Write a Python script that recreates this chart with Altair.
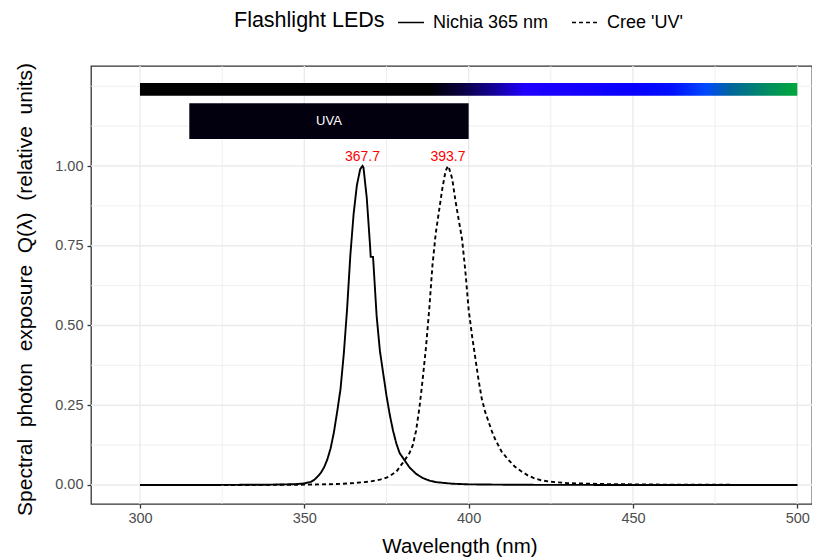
import altair as alt
import pandas as pd

# ---- data -------------------------------------------------------------
nichia_wl = [300, 320, 340, 345, 348, 350, 352, 353, 354, 355, 356, 357, 358, 359, 360,
             361, 362, 363, 364, 365, 366, 367, 367.7, 368, 369, 370, 370.2, 370.9, 371,
             372, 373, 374, 375, 376, 377, 378, 379, 380, 382, 384, 386, 388, 390, 395,
             400, 410, 420, 450, 500]
nichia_q = [0, 0, 0.001, 0.002, 0.003, 0.005, 0.01, 0.016, 0.026, 0.038, 0.055, 0.08, 0.115,
            0.165, 0.23, 0.30, 0.41, 0.55, 0.72, 0.85, 0.94, 0.99, 1.0, 0.995, 0.90, 0.75,
            0.715, 0.715, 0.70, 0.53, 0.42, 0.35, 0.28, 0.22, 0.17, 0.13, 0.10, 0.085, 0.055,
            0.035, 0.022, 0.014, 0.009, 0.004, 0.002, 0.001, 0.0005, 0, 0]

cree_wl = [300, 330, 350, 360, 365, 370, 373, 375, 376, 378, 380, 381, 382, 383, 384, 385,
           386, 387, 388, 389, 390, 391, 392, 393, 393.7, 394, 395, 396, 397, 398, 399, 400,
           401, 402, 403, 404, 405, 406, 407, 408, 409, 410, 412, 414, 416, 418, 420, 422,
           425, 430, 440, 460, 500]
cree_q = [0, 0, 0.001, 0.003, 0.006, 0.011, 0.017, 0.023, 0.028, 0.042, 0.07, 0.085, 0.10,
          0.125, 0.17, 0.24, 0.33, 0.43, 0.55, 0.69, 0.79, 0.86, 0.93, 0.985, 1.0, 0.995, 0.96,
          0.89, 0.83, 0.77, 0.67, 0.55, 0.47, 0.40, 0.33, 0.27, 0.23, 0.20, 0.17, 0.145,
          0.125, 0.105, 0.08, 0.058, 0.043, 0.03, 0.021, 0.015, 0.01, 0.006, 0.003, 0.001, 0]

series_names = ["Nichia 365 nm", "Cree 'UV'"]
peak_wl = [367.7, 393.7]
peak_q = [1.0, 1.0]

# spectral colour bar and UVA band
bar_range = [300, 500]
bar_y = [1.22, 1.26]
bar_stop_wl = [300, 388, 398, 408, 417, 450, 462, 472, 480, 490, 500]
bar_stop_col = ["#000000", "#000000", "#0a0040", "#15009a", "#2000ff", "#0800ff",
                "#0010ff", "#0048ff", "#006699", "#008a66", "#00a83a"]
uva_range = [315, 400]
uva_y = [1.085, 1.197]
uva_label = "UVA"

x_major = [300, 350, 400, 450, 500]
x_minor = [325, 375, 425, 475]
y_major = [0, 0.25, 0.5, 0.75, 1.0]
y_minor = [0.125, 0.375, 0.625, 0.875, 1.125, 1.25]

# ---- tables -----------------------------------------------------------
lines_df = pd.concat([
    pd.DataFrame({"wl": nichia_wl, "q": nichia_q, "led": series_names[0]}),
    pd.DataFrame({"wl": cree_wl, "q": cree_q, "led": series_names[1]}),
])
peaks_df = pd.DataFrame({"wl": peak_wl, "q": peak_q,
                         "label": [f"{w:.1f}" for w in peak_wl]})
bar_df = pd.DataFrame({"wl": [bar_range[0]], "wl2": [bar_range[1]],
                       "q": [bar_y[0]], "q2": [bar_y[1]]})
uva_df = pd.DataFrame({"wl": [uva_range[0]], "wl2": [uva_range[1]],
                       "q": [uva_y[0]], "q2": [uva_y[1]],
                       "xm": [(uva_range[0] + uva_range[1]) / 2],
                       "ym": [(uva_y[0] + uva_y[1]) / 2], "label": [uva_label]})

FONT = "Liberation Sans"
PX_PER_NM = 3.2865
X0 = 285.09
PLOT_W = 721
xs = alt.Scale(domain=[X0, X0 + PLOT_W / PX_PER_NM], nice=False, zero=False)
ys = alt.Scale(domain=[-0.0596, 1.3135], nice=False, zero=False)
GRID = "#EBEBEB"
SP = "\u00a0\u00a0"
XT = "Wavelength (nm)"
YT = SP.join(["Spectral", "photon", "exposure", "Q(\u03bb)", "(relative", "units)"])

xaxis = alt.Axis(values=x_major, format="d", grid=False, domain=False,
                 tickColor="#333333", tickWidth=1.3, tickSize=4,
                 labelColor="#4D4D4D", labelFontSize=14.5, labelPadding=3,
                 titleFontSize=20.5, titleFontWeight="normal", titleColor="black",
                 titleBaseline="middle", titleX=368.5, titleY=42)
yaxis = alt.Axis(values=y_major, format=".2f", grid=False, domain=False,
                 tickColor="#333333", tickWidth=1.3, tickSize=4,
                 labelColor="#4D4D4D", labelFontSize=14.5, labelPadding=4,
                 titleFontSize=21, titleFontWeight="normal", titleColor="black",
                 titleAngle=270, titleAlign="center", titleBaseline="middle",
                 titleX=-66, titleY=223)


def X(field):
    return alt.X(field, scale=xs, axis=xaxis, title=XT)


def Y(field):
    return alt.Y(field, scale=ys, axis=yaxis, title=YT)


gx_major = alt.Chart(pd.DataFrame({"wl": x_major})).mark_rule(color=GRID, strokeWidth=1.4).encode(
    x=X("wl:Q"))
gx_minor = alt.Chart(pd.DataFrame({"wl": x_minor})).mark_rule(color=GRID, strokeWidth=0.8).encode(
    x=X("wl:Q"))
gy_major = alt.Chart(pd.DataFrame({"q": y_major})).mark_rule(color=GRID, strokeWidth=1.4).encode(
    y=Y("q:Q"))
gy_minor = alt.Chart(pd.DataFrame({"q": y_minor})).mark_rule(color=GRID, strokeWidth=0.8).encode(
    y=Y("q:Q"))

span = bar_range[1] - bar_range[0]
grad = alt.LinearGradient(
    gradient="linear", x1=0, x2=1, y1=0, y2=0,
    stops=[alt.GradientStop(offset=(w - bar_range[0]) / span, color=c)
           for w, c in zip(bar_stop_wl, bar_stop_col)])
bar = alt.Chart(bar_df).mark_rect(color=grad).encode(
    x=X("wl:Q"), x2="wl2:Q", y=Y("q:Q"), y2="q2:Q")

uva = alt.Chart(uva_df).mark_rect(color="#02000F").encode(
    x=X("wl:Q"), x2="wl2:Q", y=Y("q:Q"), y2="q2:Q")
uva_txt = alt.Chart(uva_df).mark_text(color="white", font=FONT, fontSize=13,
                                      baseline="middle").encode(
    x=X("xm:Q"), y=Y("ym:Q"), text="label:N")

lines = alt.Chart(lines_df).mark_line(color="black", strokeWidth=1.9).encode(
    x=X("wl:Q"),
    y=Y("q:Q"),
    strokeDash=alt.StrokeDash(
        "led:N",
        scale=alt.Scale(domain=series_names, range=[[1, 0], [4, 3]]),
        legend=alt.Legend(orient="none", legendX=143, legendY=-57.5, direction="horizontal",
                          title="Flashlight LEDs", titleOrient="left", titleFontSize=21.5,
                          titleFontWeight="normal", titleColor="black", titlePadding=12,
                          titleAnchor="middle", titleBaseline="middle",
                          labelFontSize=18, labelColor="black", labelOffset=8,
                          columnPadding=19, symbolType="stroke", symbolSize=676,
                          symbolStrokeWidth=1.6, symbolStrokeColor="black")),
    detail="led:N",
    order=alt.Order("wl:Q"))

peaks = alt.Chart(peaks_df).mark_text(color="red", font=FONT, fontSize=14,
                                      baseline="alphabetic", dy=-5).encode(
    x=X("wl:Q"), y=Y("q:Q"), text="label:N")

chart = alt.layer(gx_minor, gy_minor, gx_major, gy_major, bar, uva, uva_txt, lines, peaks).properties(
    width=PLOT_W, height=438,
    autosize=alt.AutoSizeParams(type="none"),
    padding={"left": 83, "top": 58, "right": 0, "bottom": 53},
).configure(font=FONT).configure_view(stroke="#333333", strokeWidth=1.3)

chart.save("out.html", embed_options={"renderer": "svg", "actions": False})
